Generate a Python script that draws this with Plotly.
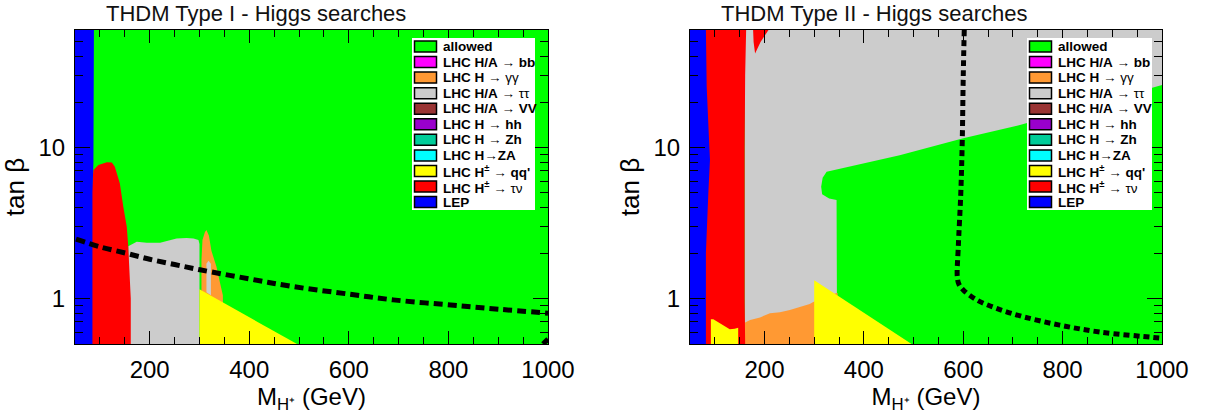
import math
import plotly.graph_objects as go

W, H = 1206, 416
X_RANGE = [50, 1000]
Y_RANGE = [0.5, 60]

X_TICKS = [200, 400, 600, 800, 1000]
X_MINOR = list(range(50, 1001, 50))
Y_TICKS = [1, 10]
Y_TICKTEXT = ["1", "10"]
Y_MINOR = [0.5, 0.6, 0.7, 0.8, 0.9, 2, 3, 4, 5, 6, 7, 8, 9, 20, 30, 40, 50, 60]

# ---------------- THDM Type I ----------------
T1_ALLOWED_X = [50, 1000, 1000, 50]
T1_ALLOWED_Y = [0.5, 0.5, 60, 60]
T1_LEP_X = [50, 50, 88, 87, 85, 85]
T1_LEP_Y = [0.5, 60, 60, 8, 5, 0.5]
T1_TAUNU_X = [84, 84, 87, 97, 114, 124, 130, 140, 147, 154, 157, 160, 162, 162]
T1_TAUNU_Y = [0.5, 5.5, 7.1, 7.65, 8.0, 7.95, 7.46, 5.8, 4.05, 2.99, 2.2, 1.47, 1.0, 0.5]
T1_TAUTAU_X = [157, 157, 174, 194, 221, 241, 254, 274, 288, 298, 300, 300]
T1_TAUTAU_Y = [0.5, 2.22, 2.38, 2.34, 2.34, 2.44, 2.5, 2.52, 2.5, 2.44, 2.3, 0.5]
T1_GAMGAM_X = [304, 304, 306, 311, 314, 319, 324, 334, 341, 347, 347]
T1_GAMGAM_Y = [1.05, 1.8, 2.44, 2.76, 2.84, 2.6, 2.07, 1.63, 1.28, 1.05, 0.9]
T1_TAUTAU2_X = [314, 314, 318, 323, 323]
T1_TAUTAU2_Y = [1.1, 1.7, 1.78, 1.7, 1.05]
T1_QQ_X = [300, 300, 496]
T1_QQ_Y = [0.5, 1.15, 0.5]
T1_LINE_X = [52, 100, 154, 200, 250, 301, 400, 488, 600, 689, 823, 900, 1000]
T1_LINE_Y = [2.47, 2.2, 1.99, 1.82, 1.68, 1.55, 1.35, 1.2, 1.07, 0.98, 0.895, 0.85, 0.80]
T1_LINE2_X = [990, 1000]
T1_LINE2_Y = [0.5, 0.54]

# ---------------- THDM Type II ----------------
T2_ALLOWED_X = [50, 1000, 1000, 50]
T2_ALLOWED_Y = [0.5, 0.5, 60, 60]
T2_TAUTAU_X = [160, 160, 1000, 1000, 714, 600, 472, 352, 325, 317, 314, 316, 330, 345, 346, 346]
T2_TAUTAU_Y = [0.5, 60, 60, 25.9, 14.1, 11.5, 8.9, 7.3, 6.9, 6.3, 5.5, 4.9, 4.6, 4.5, 1.09, 0.5]
T2_GAMGAM_X = [158, 158, 171, 191, 211, 231, 251, 271, 291, 298, 320, 345, 347, 347]
T2_GAMGAM_Y = [0.5, 0.685, 0.72, 0.75, 0.80, 0.81, 0.84, 0.88, 0.92, 0.95, 1.02, 1.09, 1.09, 0.5]
T2_QQ_X = [300, 300, 496]
T2_QQ_Y = [0.5, 1.32, 0.5]
T2_TAUNU_X = [80, 80, 163, 161, 160, 159.5, 160, 161]
T2_TAUNU_Y = [0.5, 60, 60, 30, 10, 3, 1, 0.5]
T2_TAUNU2_X = [177, 208, 192, 181, 178]
T2_TAUNU2_Y = [60, 60, 50, 42, 50]
T2_QQ2_X = [92, 92, 97, 130, 140, 147, 147]
T2_QQ2_Y = [0.5, 0.73, 0.73, 0.625, 0.63, 0.64, 0.5]
T2_LEP_X = [50, 50, 82, 83.6, 88.9, 90.2, 86.9, 82, 82]
T2_LEP_Y = [0.5, 60, 60, 25.3, 10.1, 8.3, 4.97, 2.0, 0.5]
T2_LINE_X = [602, 600, 598, 595, 590, 588, 591, 600, 627, 667, 721, 794, 875, 982, 1000]
T2_LINE_Y = [60, 30, 11.2, 4.97, 2.2, 1.39, 1.25, 1.14, 0.98, 0.86, 0.757, 0.667, 0.60, 0.553, 0.545]

# ---------------- legend ----------------
LEGEND_LABELS = [
    "<b>allowed</b>",
    "<b>LHC H/A</b> → <b>bb</b>",
    "<b>LHC H</b> → γγ",
    "<b>LHC H/A</b> → ττ",
    "<b>LHC H/A</b> → <b>VV</b>",
    "<b>LHC H</b> → <b>hh</b>",
    "<b>LHC H</b> → <b>Zh</b>",
    "<b>LHC H</b>→<b>ZA</b>",
    "<b>LHC H<sup>±</sup></b> → <b>qq'</b>",
    "<b>LHC H<sup>±</sup></b> → τν",
    "<b>LEP</b>",
]
LEGEND_COLORS = ["#00FF00", "#FF00FF", "#FF9933", "#CCCCCC", "#993333", "#9900CC",
                 "#00CC99", "#00FFFF", "#FFFF00", "#FF0000", "#0000FF"]

C_ALLOWED, C_GAMGAM, C_TAUTAU, C_QQ, C_TAUNU, C_LEP = (
    "#00FF00", "#FF9933", "#CCCCCC", "#FFFF00", "#FF0000", "#0000FF")

FONT = "Liberation Sans, Arial, Helvetica, sans-serif"

fig = go.Figure()


def region(x, y, color, xa, ya):
    fig.add_trace(go.Scatter(x=x, y=y, fill="toself", fillcolor=color, mode="lines",
                             line=dict(width=0, color=color), hoverinfo="skip",
                             showlegend=False, xaxis=xa, yaxis=ya))


def dline(x, y, xa, ya, dash):
    fig.add_trace(go.Scatter(x=x, y=y, mode="lines",
                             line=dict(color="black", width=5, dash=dash, shape="spline"),
                             hoverinfo="skip", showlegend=False, xaxis=xa, yaxis=ya))


# Type I panel
region(T1_ALLOWED_X, T1_ALLOWED_Y, C_ALLOWED, "x", "y")
region(T1_TAUTAU_X, T1_TAUTAU_Y, C_TAUTAU, "x", "y")
region(T1_GAMGAM_X, T1_GAMGAM_Y, C_GAMGAM, "x", "y")
region(T1_TAUTAU2_X, T1_TAUTAU2_Y, C_TAUTAU, "x", "y")
region(T1_QQ_X, T1_QQ_Y, C_QQ, "x", "y")
region(T1_TAUNU_X, T1_TAUNU_Y, C_TAUNU, "x", "y")
region(T1_LEP_X, T1_LEP_Y, C_LEP, "x", "y")
dline(T1_LINE_X, T1_LINE_Y, "x", "y", "9px,5px")
dline(T1_LINE2_X, T1_LINE2_Y, "x", "y", "solid")

# Type II panel
region(T2_ALLOWED_X, T2_ALLOWED_Y, C_ALLOWED, "x2", "y2")
region(T2_TAUTAU_X, T2_TAUTAU_Y, C_TAUTAU, "x2", "y2")
region(T2_GAMGAM_X, T2_GAMGAM_Y, C_GAMGAM, "x2", "y2")
region(T2_QQ_X, T2_QQ_Y, C_QQ, "x2", "y2")
region(T2_TAUNU_X, T2_TAUNU_Y, C_TAUNU, "x2", "y2")
region(T2_TAUNU2_X, T2_TAUNU2_Y, C_TAUNU, "x2", "y2")
region(T2_QQ2_X, T2_QQ2_Y, C_QQ, "x2", "y2")
region(T2_LEP_X, T2_LEP_Y, C_LEP, "x2", "y2")
dline(T2_LINE_X, T2_LINE_Y, "x2", "y2", "6px,4px")

# pixel layout helpers
PANELS = [(75, 548), (690, 1162)]
PLOT_TOP, PLOT_BOTTOM = 30, 344


def fx(p):
    return p / W


def fy(p):
    return 1 - p / H


xaxis_common = dict(
    range=X_RANGE, tickvals=X_TICKS, ticks="inside", ticklen=13, tickwidth=1,
    tickcolor="black", showline=True, linecolor="black", linewidth=1, mirror="ticks",
    showgrid=False, zeroline=False, automargin=False,
    tickfont=dict(size=24, color="black", family=FONT),
    minor=dict(tickvals=X_MINOR, ticks="inside", ticklen=7, tickcolor="black", showgrid=False),
    title=dict(text="M<sub>H⁺</sub> (GeV)", font=dict(size=24, color="black", family=FONT),
               standoff=4),
    ticklabelstandoff=4,
)
yaxis_common = dict(
    type="log", range=[math.log10(Y_RANGE[0]), math.log10(Y_RANGE[1])],
    tickvals=Y_TICKS, ticktext=Y_TICKTEXT, ticks="inside", ticklen=15, tickwidth=1,
    tickcolor="black", showline=True, linecolor="black", linewidth=1, mirror="ticks",
    showgrid=False, zeroline=False, automargin=False,
    tickfont=dict(size=24, color="black", family=FONT),
    minor=dict(tickvals=Y_MINOR, ticks="inside", ticklen=8, tickcolor="black", showgrid=False),
    title=dict(text="tan β", font=dict(size=26, color="black", family=FONT), standoff=6),
    ticklabelstandoff=4,
)

ydom = [fy(PLOT_BOTTOM), fy(PLOT_TOP)]
fig.update_layout(
    template="none", autosize=False,
    width=W, height=H, margin=dict(l=0, r=0, t=0, b=0, pad=0),
    paper_bgcolor="white", plot_bgcolor="white", showlegend=False,
    font=dict(family=FONT, color="black"),
    xaxis=dict(domain=[fx(PANELS[0][0]), fx(PANELS[0][1])], anchor="y", **xaxis_common),
    yaxis=dict(domain=ydom, anchor="x", **yaxis_common),
    xaxis2=dict(domain=[fx(PANELS[1][0]), fx(PANELS[1][1])], anchor="y2", **xaxis_common),
    yaxis2=dict(domain=ydom, anchor="x2", **yaxis_common),
)

# titles
TITLES = ["THDM Type I - Higgs searches", "THDM Type II - Higgs searches"]
for (left, right), title in zip(PANELS, TITLES):
    fig.add_annotation(text=title, x=fx(left + 29), y=fy(14), xref="paper", yref="paper",
                       xanchor="left", yanchor="middle", showarrow=False,
                       font=dict(size=22, color="#111111", family=FONT))

# custom legends (box, swatches, labels)
LEG_BOXES = [(412, 535), (1027, 1152)]
LEG_TOP, LEG_BOTTOM = 38, 210
ROW0, PITCH = 46.5, 15.56
shapes = []
for bl, br in LEG_BOXES:
    shapes.append(dict(type="rect", xref="paper", yref="paper", x0=fx(bl), x1=fx(br),
                       y0=fy(LEG_BOTTOM), y1=fy(LEG_TOP), fillcolor="white",
                       line=dict(width=0), layer="above"))
    for i, (lab, col) in enumerate(zip(LEGEND_LABELS, LEGEND_COLORS)):
        cy = ROW0 + i * PITCH
        shapes.append(dict(type="rect", xref="paper", yref="paper", x0=fx(bl + 2.5),
                           x1=fx(bl + 24.5), y0=fy(cy + 5.5), y1=fy(cy - 5.5),
                           fillcolor=col, line=dict(color="black", width=1.5), layer="above"))
        fig.add_annotation(text=lab, x=fx(bl + 29), y=fy(cy), xref="paper", yref="paper",
                           xanchor="left", yanchor="middle", showarrow=False,
                           font=dict(size=13.5, color="black", family=FONT))
fig.update_layout(shapes=shapes)

fig.write_html("out.html", config={"displayModeBar": False, "responsive": False},
               post_script="document.body.style.margin='0';")
